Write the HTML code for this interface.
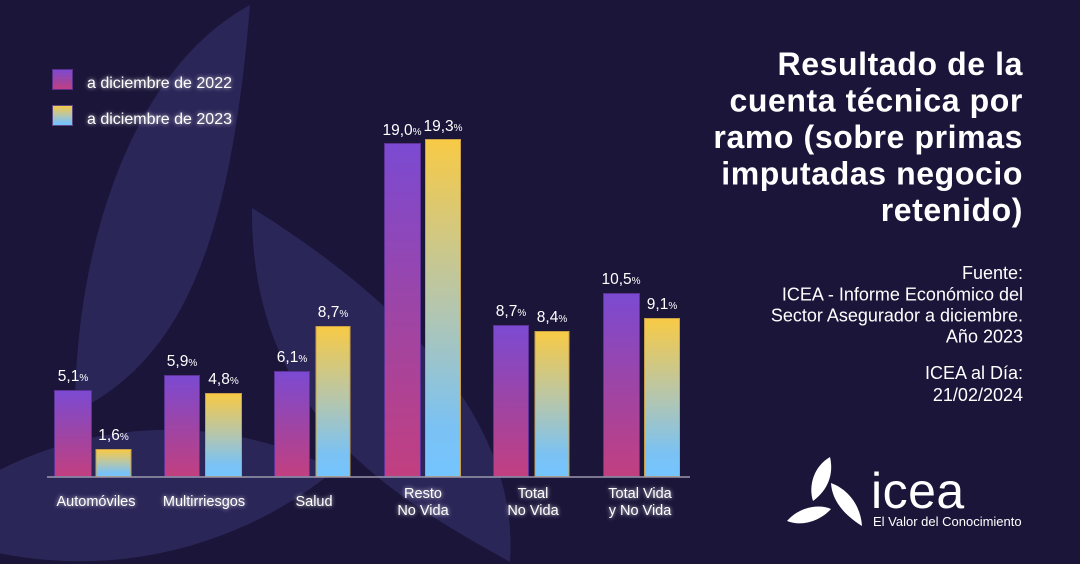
<!DOCTYPE html>
<html>
<head>
<meta charset="utf-8">
<style>
html,body{margin:0;padding:0;background:#1a1539;}
svg{display:block;}
text{font-family:"Liberation Sans",sans-serif;fill:#fff;}
</style>
</head>
<body>
<svg width="1080" height="564" viewBox="0 0 1080 564" xmlns="http://www.w3.org/2000/svg">
<defs>
<linearGradient id="g22" x1="0" y1="0" x2="0" y2="1">
<stop offset="0" stop-color="#7b4ad2"/>
<stop offset="0.5" stop-color="#9d45a6"/>
<stop offset="1" stop-color="#c23f80"/>
</linearGradient>
<linearGradient id="g23" x1="0" y1="0" x2="0" y2="1">
<stop offset="0" stop-color="#f8ca45"/>
<stop offset="0.5" stop-color="#b4c6ae"/>
<stop offset="0.85" stop-color="#7bc2f3"/>
<stop offset="1" stop-color="#74c4ff"/>
</linearGradient>
<filter id="glow" x="-20%" y="-50%" width="140%" height="200%">
<feGaussianBlur in="SourceGraphic" stdDeviation="2.2" result="b"/>
<feComponentTransfer in="b" result="b2"><feFuncA type="linear" slope="0.8"/></feComponentTransfer>
<feMerge><feMergeNode in="b2"/><feMergeNode in="SourceGraphic"/></feMerge>
</filter>
</defs>

<rect width="1080" height="564" fill="#1a1539"/>

<!-- background leaves -->
<g fill="#2b2658">
<path d="M250,5 C130,70 75,250 75,412 C180,360 230,250 250,5 Z"/>
<path d="M-80,530 C0,440 180,390 335,470 C250,540 100,600 -80,530 Z"/>
<path d="M252,208 C400,300 520,420 510,562 C400,500 250,420 252,208 Z"/>
</g>

<!-- legend -->
<rect x="52.5" y="69.5" width="20" height="20" fill="url(#g22)" stroke="#5a2f8a" stroke-width="1"/>
<rect x="52.5" y="105.5" width="20" height="20" fill="url(#g23)" stroke="#5a4a80" stroke-width="1"/>
<g filter="url(#glow)" font-size="16">
<text x="87" y="88">a diciembre de 2022</text>
<text x="87" y="124">a diciembre de 2023</text>
</g>

<!-- bars -->
<g stroke-width="1">
<rect x="54.5" y="390.5" width="37" height="86" fill="url(#g22)" stroke="#5e3296"/>
<rect x="96" y="449.5" width="35" height="27" fill="url(#g23)" stroke="#c9a048"/>
<rect x="164.5" y="375.5" width="35" height="101" fill="url(#g22)" stroke="#5e3296"/>
<rect x="205.5" y="393.5" width="36" height="83" fill="url(#g23)" stroke="#c9a048"/>
<rect x="274.5" y="371.5" width="35" height="105" fill="url(#g22)" stroke="#5e3296"/>
<rect x="316" y="326.5" width="34" height="150" fill="url(#g23)" stroke="#c9a048"/>
<rect x="384.5" y="143.5" width="36" height="333" fill="url(#g22)" stroke="#5e3296"/>
<rect x="425.5" y="139.5" width="35" height="337" fill="url(#g23)" stroke="#c9a048"/>
<rect x="493.5" y="325.5" width="35" height="151" fill="url(#g22)" stroke="#5e3296"/>
<rect x="535" y="331.5" width="34" height="145" fill="url(#g23)" stroke="#c9a048"/>
<rect x="603.5" y="293.5" width="36" height="183" fill="url(#g22)" stroke="#5e3296"/>
<rect x="644.5" y="318.5" width="35" height="158" fill="url(#g23)" stroke="#c9a048"/>
</g>
<line x1="47" y1="477" x2="690" y2="477" stroke="#9a98aa" stroke-width="1.6"/>

<!-- value labels -->
<g font-size="15.5" text-anchor="middle">
<text x="73" y="381">5,1<tspan font-size="10">%</tspan></text>
<text x="113.5" y="440">1,6<tspan font-size="10">%</tspan></text>
<text x="182" y="366">5,9<tspan font-size="10">%</tspan></text>
<text x="223.5" y="384">4,8<tspan font-size="10">%</tspan></text>
<text x="292" y="362">6,1<tspan font-size="10">%</tspan></text>
<text x="333" y="317">8,7<tspan font-size="10">%</tspan></text>
<text x="402" y="135">19,0<tspan font-size="10">%</tspan></text>
<text x="443" y="131">19,3<tspan font-size="10">%</tspan></text>
<text x="511" y="316">8,7<tspan font-size="10">%</tspan></text>
<text x="552" y="322">8,4<tspan font-size="10">%</tspan></text>
<text x="621" y="284">10,5<tspan font-size="10">%</tspan></text>
<text x="662" y="309">9,1<tspan font-size="10">%</tspan></text>
</g>

<!-- category labels -->
<g font-size="14.5" text-anchor="middle" filter="url(#glow)">
<text x="96" y="506">Automóviles</text>
<text x="204" y="506">Multirriesgos</text>
<text x="314" y="506">Salud</text>
<text x="423" y="498">Resto</text>
<text x="423" y="515">No Vida</text>
<text x="533" y="498">Total</text>
<text x="533" y="515">No Vida</text>
<text x="640" y="498">Total Vida</text>
<text x="640" y="515">y No Vida</text>
</g>

<!-- title -->
<g font-size="32" font-weight="bold" text-anchor="end" letter-spacing="0.6">
<text x="1023" y="75">Resultado de la</text>
<text x="1023" y="111.5">cuenta técnica por</text>
<text x="1023" y="148">ramo (sobre primas</text>
<text x="1023" y="184.5">imputadas negocio</text>
<text x="1023" y="221">retenido)</text>
</g>

<!-- source -->
<g font-size="18" text-anchor="end">
<text x="1023" y="279">Fuente:</text>
<text x="1023" y="300.5">ICEA - Informe Económico del</text>
<text x="1023" y="321.5">Sector Asegurador a diciembre.</text>
<text x="1023" y="342.5">Año 2023</text>
<text x="1023" y="379">ICEA al Día:</text>
<text x="1023" y="401">21/02/2024</text>
</g>

<!-- logo -->
<g fill="#ffffff">
<path d="M830,457 C814,466 808,486 813,501 C828,490 834,474 830,457 Z"/>
<path d="M831,483 C832,502 846,516 862,526 C861,508 850,490 831,483 Z"/>
<path d="M787,521 C798,508 818,503 831,509 C820,521 802,527 787,521 Z"/>
</g>
<text x="871" y="508" font-size="50" letter-spacing="0.5">icea</text>
<text x="873" y="526" font-size="13">El Valor del Conocimiento</text>
</svg>
</body>
</html>
